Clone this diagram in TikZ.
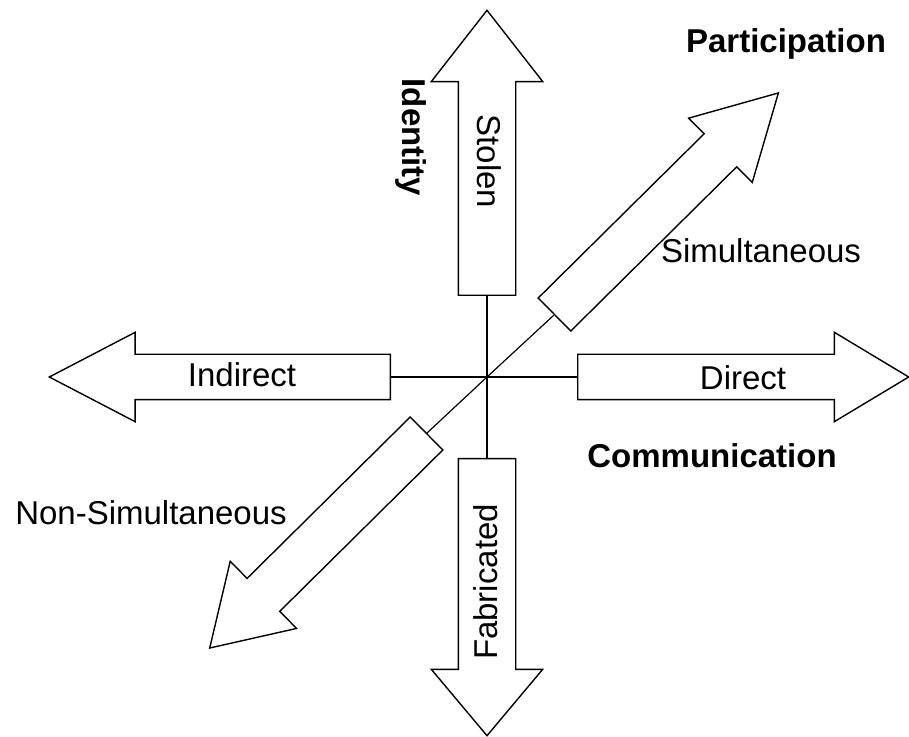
\documentclass[tikz,border=0pt]{standalone}
\usepackage{fontspec}
\setmainfont{Liberation Sans}
\usetikzlibrary{shapes.arrows}

\begin{document}
\begin{tikzpicture}[
			x=1pt, y=1pt,
			blockarrow/.style={single arrow, draw, fill=white, line width=1.4pt,
				inner sep=0pt, minimum width=0pt, single arrow head indent=0pt, anchor=tail},
			lbl/.style={font=\fontsize{33}{40}\selectfont, inner sep=0pt, anchor=base},
			title/.style={lbl, font=\fontsize{33}{40}\selectfont\bfseries},
			axis/.style={line width=1.2pt}
			]
			\useasboundingbox (0,0) rectangle (909,736);
			\coordinate (o) at (487,359);
			
			% Identity (verticale)
			\node[blockarrow, rotate=90, minimum height=285pt, inner ysep=28pt,
				single arrow head extend=27pt, single arrow tip angle=76] (stolen) at (487,440) {};
			\node[blockarrow, rotate=-90, minimum height=277pt, inner ysep=28pt,
				single arrow head extend=27pt, single arrow tip angle=80] (fabricated) at (487,278) {};
			
			% Communication (orizzontale)
			\node[blockarrow, rotate=180, minimum height=341pt, inner ysep=22pt,
				single arrow head extend=22pt, single arrow tip angle=55] (indirect) at (391,359) {};
			\node[blockarrow, minimum height=331pt, inner ysep=22pt,
				single arrow head extend=22pt, single arrow tip angle=62] (direct) at (577,359) {};
			
			% Participation (diagonale)
			\node[blockarrow, rotate=44.7, minimum height=315pt, inner ysep=22.5pt,
				single arrow head extend=22pt, single arrow tip angle=58] (simult) at (554,421) {};
			\node[blockarrow, rotate=224.7, minimum height=305pt, inner ysep=22.5pt,
				single arrow head extend=24pt, single arrow tip angle=64] (nonsimult) at (427,303) {};
			
			% Assi
			\draw[axis] (o) -- (stolen.tail);
			\draw[axis] (o) -- (fabricated.tail);
			\draw[axis] (o) -- (indirect.tail);
			\draw[axis] (o) -- (direct.tail);
			\draw[axis] (o) -- (simult.tail);
			\draw[axis] (o) -- (nonsimult.tail);
			
			% Etichette
			\node[lbl, rotate=-90] (tstolen) at (477,574.5) {Stolen};
			\node[lbl, rotate=90] (tfabricated) at (497,154) {Fabricated};
			\node[lbl] (tindirect) at (242,349) {Indirect};
			\node[lbl] (tdirect) at (743,346) {Direct};
			\node[lbl] (tsimult) at (761,473) {Simultaneous};
			\node[lbl] (tnonsimult) at (151,211) {Non-Simultaneous};
			
			% Titoli
			\node[title, rotate=-90] (identity) at (402,598.5) {Identity};
			\node[title] (communication) at (712,268) {Communication};
			\node[title] (participation) at (786,683) {Participation};
			
		\end{tikzpicture}
\end{document}
